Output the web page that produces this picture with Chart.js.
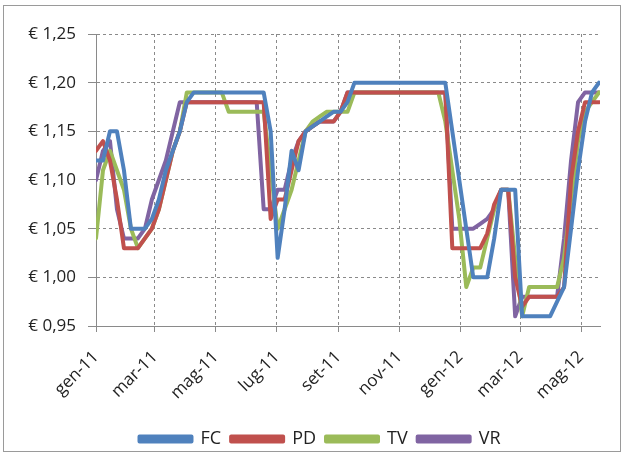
<!DOCTYPE html>
<html>
<head>
<meta charset="utf-8">
<script src="https://cdn.jsdelivr.net/npm/chart.js@4/dist/chart.umd.min.js"></script>
<style>
  html, body { margin: 0; padding: 0; background: #fff; }
  #wrap { position: relative; width: 625px; height: 458px; }
  #frame { position: absolute; left: 3px; top: 5px; width: 616px; height: 445px; border: 1px solid #9a9a9a; pointer-events: none; }
  canvas { position: absolute; left: 0; top: 0; }
</style>
</head>
<body>
<div id="wrap">
  <canvas id="c" width="625" height="458"></canvas>
  <div id="frame"></div>
</div>
<script>
// Weekly price readings, days counted from 1 Jan 2011
const days = [0, 7, 14, 21, 28, 35, 42, 49, 56, 63, 70, 77, 84, 91, 98, 105, 112, 119, 126, 133,
  140, 147, 154, 161, 168, 175, 182, 189, 196, 203, 210, 217, 224, 231, 238, 245, 252, 259, 266, 273,
  280, 287, 294, 301, 308, 315, 322, 329, 336, 343, 350, 357, 364, 371, 378, 385, 392, 399, 406, 413,
  420, 427, 434, 441, 448, 455, 462, 469, 476, 483, 490, 497, 504];

const seriesNames = ['FC', 'PD', 'TV', 'VR'];
const seriesColors = ['#4F81BD', '#C0504D', '#9BBB59', '#8064A2'];

const fc = [1.12, 1.12, 1.15, 1.15, 1.11, 1.05, 1.05, 1.05, 1.06, 1.08, 1.11, 1.13, 1.15, 1.18, 1.19, 1.19, 1.19, 1.19, 1.19, 1.19,
  1.19, 1.19, 1.19, 1.19, 1.19, 1.15, 1.02, 1.07, 1.13, 1.11, 1.15, 1.155, 1.16, 1.165, 1.17, 1.17, 1.18, 1.20, 1.20, 1.20,
  1.20, 1.20, 1.20, 1.20, 1.20, 1.20, 1.20, 1.20, 1.20, 1.20, 1.20, 1.15, 1.10, 1.05, 1.00, 1.00, 1.00, 1.04, 1.09, 1.09,
  1.09, 0.96, 0.96, 0.96, 0.96, 0.96, 0.975, 0.99, 1.05, 1.11, 1.16, 1.19, 1.20];

const pd = [1.13, 1.14, 1.12, 1.08, 1.03, 1.03, 1.03, 1.04, 1.05, 1.07, 1.10, 1.13, 1.15, 1.18, 1.18, 1.18, 1.18, 1.18, 1.18, 1.18,
  1.18, 1.18, 1.18, 1.18, 1.18, 1.06, 1.08, 1.08, 1.11, 1.14, 1.15, 1.155, 1.16, 1.16, 1.16, 1.17, 1.19, 1.19, 1.19, 1.19,
  1.19, 1.19, 1.19, 1.19, 1.19, 1.19, 1.19, 1.19, 1.19, 1.19, 1.19, 1.03, 1.03, 1.03, 1.03, 1.03, 1.045, 1.075, 1.09, 1.09,
  1.00, 0.97, 0.98, 0.98, 0.98, 0.98, 0.98, 0.99, 1.10, 1.15, 1.18, 1.18, 1.18];

const tv = [1.04, 1.11, 1.13, 1.11, 1.09, 1.05, 1.03, 1.04, 1.05, 1.07, 1.10, 1.13, 1.15, 1.19, 1.19, 1.19, 1.19, 1.19, 1.19, 1.17,
  1.17, 1.17, 1.17, 1.17, 1.17, 1.11, 1.05, 1.07, 1.09, 1.12, 1.15, 1.16, 1.165, 1.17, 1.17, 1.17, 1.17, 1.19, 1.19, 1.19,
  1.19, 1.19, 1.19, 1.19, 1.19, 1.19, 1.19, 1.19, 1.19, 1.19, 1.16, 1.11, 1.06, 0.99, 1.01, 1.01, 1.04, 1.07, 1.09, 1.09,
  1.02, 0.96, 0.99, 0.99, 0.99, 0.99, 0.99, 1.02, 1.08, 1.14, 1.17, 1.18, 1.19];

const vr = [1.10, 1.13, 1.14, 1.07, 1.04, 1.04, 1.04, 1.05, 1.08, 1.10, 1.12, 1.15, 1.18, 1.18, 1.18, 1.18, 1.18, 1.18, 1.18, 1.18,
  1.18, 1.18, 1.18, 1.18, 1.07, 1.07, 1.09, 1.09, 1.12, 1.14, 1.15, 1.155, 1.16, 1.16, 1.16, 1.17, 1.19, 1.19, 1.19, 1.19,
  1.19, 1.19, 1.19, 1.19, 1.19, 1.19, 1.19, 1.19, 1.19, 1.19, 1.19, 1.05, 1.05, 1.05, 1.05, 1.055, 1.06, 1.07, 1.09, 1.09,
  0.96, 0.98, 0.98, 0.98, 0.98, 0.98, 0.98, 1.04, 1.12, 1.18, 1.19, 1.19, 1.19];

// Month ticks every two months (first day of month, in days from 1 Jan 2011)
const tickDays = [0, 59, 120, 181, 243, 304, 365, 425, 486];
const tickLabels = ['gen-11', 'mar-11', 'mag-11', 'lug-11', 'set-11', 'nov-11', 'gen-12', 'mar-12', 'mag-12'];

const allSeries = [fc, pd, tv, vr];
const fontFamily = "'Open Sans', Lato, sans-serif";

const datasets = allSeries.map((vals, i) => ({
  label: seriesNames[i],
  data: vals.map((v, k) => ({ x: days[k], y: v })),
  borderColor: seriesColors[i],
  backgroundColor: seriesColors[i],
  borderWidth: 4,
  pointRadius: 0,
  tension: 0,
  borderJoinStyle: 'round',
  borderCapStyle: 'round'
}));

const gridColor = '#8a8a8a';
const PLOT_BOTTOM = 326;
const LEGEND_SHIFT = 20;

new Chart(document.getElementById('c'), {
  type: 'line',
  data: { datasets },
  options: {
    responsive: false,
    animation: false,
    layout: { padding: { left: 0, right: 25, top: 34, bottom: 0 } },
    plugins: {
      legend: {
        position: 'bottom',
        labels: {
          boxWidth: 52,
          boxHeight: 5,
          padding: 10,
          color: '#222',
          font: { family: fontFamily, size: 18 }
        }
      },
      tooltip: { enabled: false }
    },
    scales: {
      x: {
        type: 'linear',
        min: 0,
        max: 505,
        afterBuildTicks: (scale) => { scale.ticks = tickDays.map(v => ({ value: v })); },
        afterFit: (scale) => {
          const lg = scale.chart.legend;
          const lh = lg && lg.height ? lg.height : 36;
          scale.height = scale.chart.height - PLOT_BOTTOM - lh;
        },
        ticks: {
          autoSkip: false,
          minRotation: 45,
          maxRotation: 45,
          padding: 15,
          color: '#222',
          font: { family: fontFamily, size: 17 },
          callback: (value) => tickLabels[tickDays.indexOf(value)]
        },
        grid: { color: gridColor, lineWidth: 1, tickLength: 6 },
        border: { color: '#8a8a8a', width: 1, dash: [3, 3] }
      },
      y: {
        min: 0.95,
        max: 1.25,
        afterFit: (scale) => { scale.width = 96; },
        ticks: {
          stepSize: 0.05,
          padding: 12,
          color: '#222',
          font: { family: fontFamily, size: 17 },
          callback: (value) => '€ ' + value.toFixed(2).replace('.', ',')
        },
        grid: { color: gridColor, lineWidth: 1, tickLength: 8 },
        border: { color: '#8a8a8a', width: 1, dash: [3, 3] }
      }
    }
  },
  plugins: [{
    id: 'legendOffset',
    afterLayout(chart) {
      // centre the legend row a little further right, under the plot
      const lg = chart.legend;
      if (lg) { lg.left += LEGEND_SHIFT; lg.right += LEGEND_SHIFT; }
    }
  }, {
    id: 'solidAxes',
    beforeDatasetsDraw(chart) {
      // solid left and bottom axis lines over the dashed grid
      const { ctx, chartArea } = chart;
      ctx.save();
      ctx.strokeStyle = '#8a8a8a';
      ctx.lineWidth = 1;
      ctx.setLineDash([]);
      ctx.beginPath();
      ctx.moveTo(Math.round(chartArea.left) + 0.5, chartArea.top);
      ctx.lineTo(Math.round(chartArea.left) + 0.5, chartArea.bottom);
      ctx.moveTo(chartArea.left, Math.round(chartArea.bottom) + 0.5);
      ctx.lineTo(chartArea.right, Math.round(chartArea.bottom) + 0.5);
      ctx.stroke();
      ctx.restore();
    }
  }]
});
</script>
</body>
</html>
